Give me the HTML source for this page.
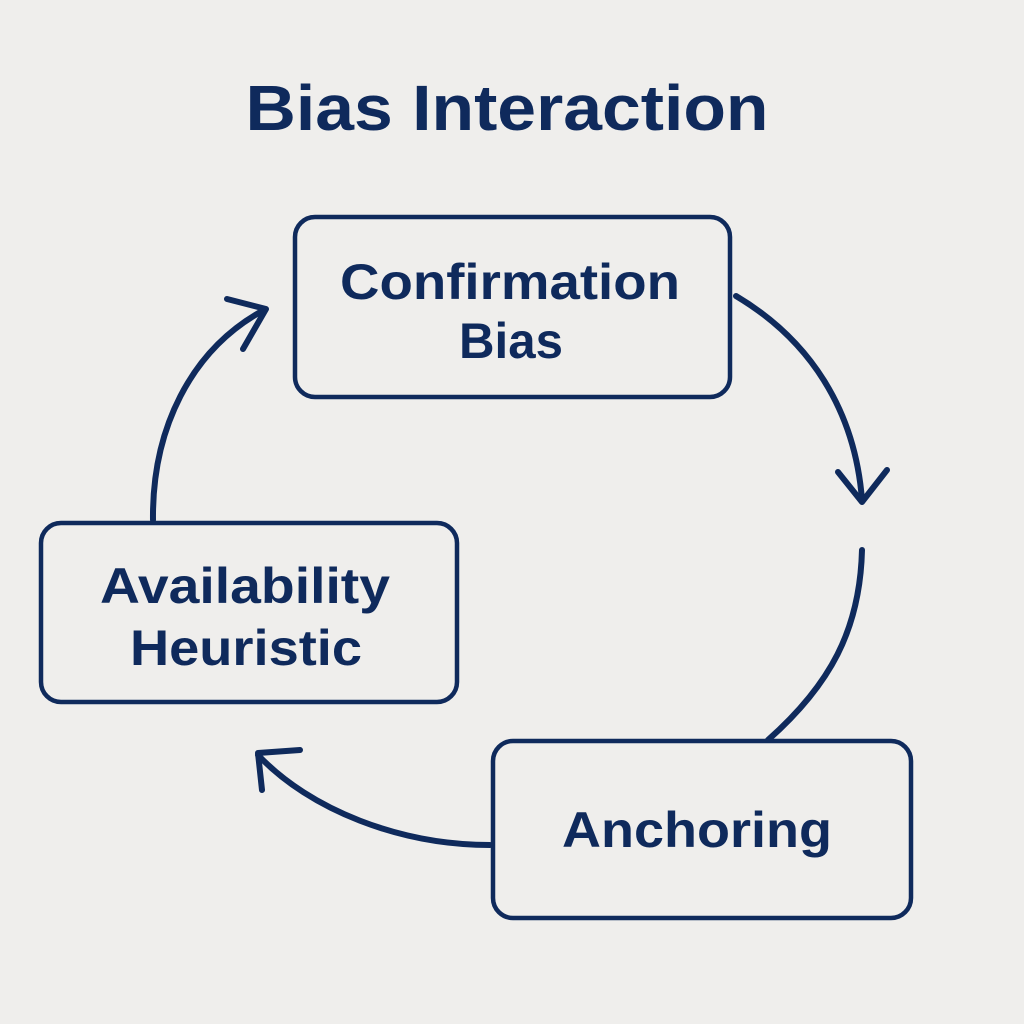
<!DOCTYPE html>
<html><head><style>
html,body{margin:0;padding:0;background:#efeeec;}
svg{display:block}
text{font-family:"Liberation Sans",sans-serif;font-weight:bold;fill:#0f2a5c;text-anchor:middle}
</style></head><body>
<svg width="1024" height="1024" viewBox="0 0 1024 1024" xmlns="http://www.w3.org/2000/svg">
<rect width="1024" height="1024" fill="#efeeec"/>
<text x="507" y="130" font-size="64" textLength="523" lengthAdjust="spacingAndGlyphs">Bias Interaction</text>
<g fill="none" stroke="#0f2a5c" stroke-width="4.5">
<rect x="295" y="217" width="435" height="180" rx="20"/>
<rect x="41" y="523" width="416" height="179" rx="20"/>
<rect x="493" y="741" width="418" height="177" rx="20"/>
</g>
<g fill="none" stroke="#0f2a5c" stroke-width="6" stroke-linecap="round" stroke-linejoin="round">
<path d="M153 520 C152 430 190 350 264 310"/>
<path d="M227 299 L266 309 L243 349"/>
<path d="M736 296 C810 340 855 410 862 500"/>
<path d="M838 472 L862 502 L887 470"/>
<path d="M862 550 C860 630 830 685 768 740"/>
<path d="M490 845 C400 845 310 810 258 755"/>
<path d="M300 750 L258 753 L262 790"/>
</g>
<text x="510" y="299" font-size="50" textLength="340" lengthAdjust="spacingAndGlyphs">Confirmation</text>
<text x="511" y="358" font-size="50" textLength="104" lengthAdjust="spacingAndGlyphs">Bias</text>
<text x="245" y="603" font-size="50" textLength="290" lengthAdjust="spacingAndGlyphs">Availability</text>
<text x="246" y="665" font-size="50" textLength="232" lengthAdjust="spacingAndGlyphs">Heuristic</text>
<text x="697" y="847" font-size="50" textLength="270" lengthAdjust="spacingAndGlyphs">Anchoring</text>
</svg>
</body></html>
